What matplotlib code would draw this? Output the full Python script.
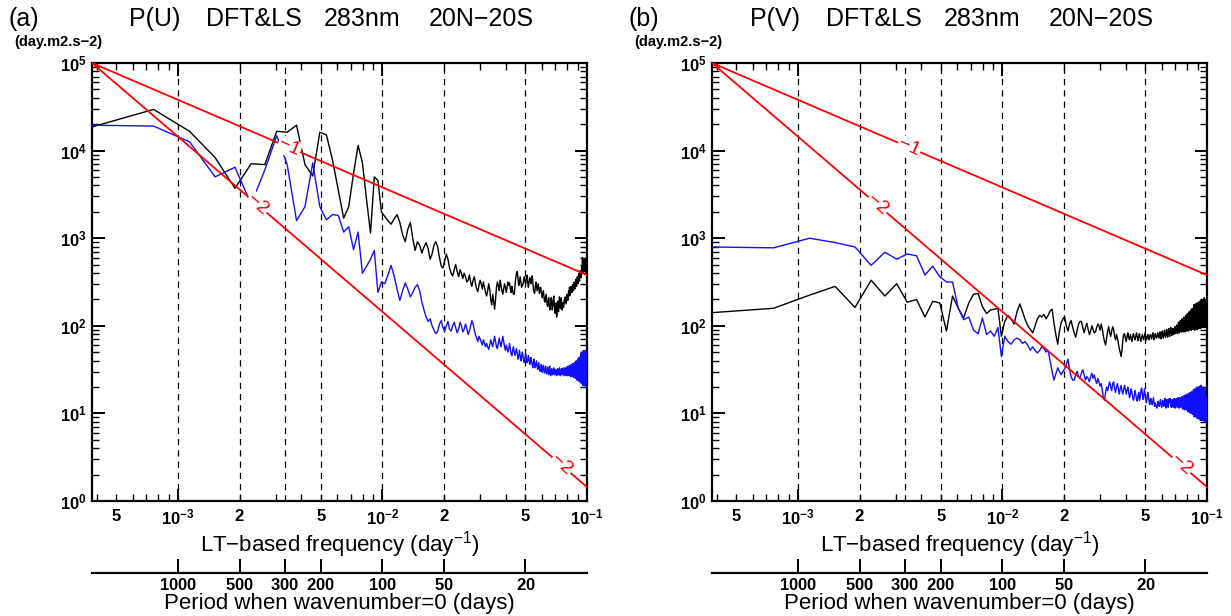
import matplotlib.pyplot as plt
import numpy as np
from matplotlib.ticker import LogLocator, FuncFormatter, FixedLocator, NullLocator, FixedFormatter

plt.rcParams['font.family'] = ['Liberation Sans', 'DejaVu Sans']
plt.rcParams['mathtext.fontset'] = 'custom'
plt.rcParams['mathtext.rm'] = 'Liberation Sans'
plt.rcParams['mathtext.bf'] = 'Liberation Sans:bold'
plt.rcParams['mathtext.default'] = 'regular'

# frequency resolution of the spectra (day^-1), harmonics k = 1, 2, ...
df = 3.8e-4

# log10 of power, panel (a) P(U)
a_black = [4.27, 4.47, 4.22, 3.92, 3.57, 3.85, 3.84, 4.22, 4.21, 4.29, 3.84, 3.71, 4.21, 4.18, 3.89, 3.55, 3.23, 3.36, 3.74, 4.06, 3.86, 3.44, 3.06, 3.70, 3.66,
           3.30, 3.25, 3.20, 3.16, 3.22, 3.27, 3.18, 3.04, 2.96, 3.10, 3.18, 3.00, 2.86, 2.96, 2.92, 2.83, 2.90, 2.95, 2.88, 2.76, 2.82, 2.92, 2.96, 2.90, 2.78,
           2.68, 2.66, 2.74, 2.82, 2.76, 2.66, 2.60, 2.57, 2.64, 2.70, 2.62, 2.56, 2.64, 2.60, 2.54, 2.60, 2.56, 2.50, 2.52, 2.58, 2.50, 2.45, 2.52, 2.56, 2.48,
           2.42, 2.39, 2.46, 2.52, 2.48, 2.42, 2.50, 2.44, 2.38, 2.34, 2.40, 2.48, 2.42, 2.30, 2.24, 2.36, 2.28, 2.19, 2.30, 2.44, 2.50, 2.46, 2.40, 2.52, 2.46,
           2.40, 2.36, 2.42, 2.48, 2.44, 2.38, 2.44, 2.50, 2.46, 2.49, 2.42, 2.38, 2.45, 2.40, 2.36, 2.36, 2.46, 2.55, 2.60, 2.62, 2.54, 2.46, 2.50, 2.56, 2.50,
           2.44, 2.47, 2.47, 2.52, 2.56, 2.50, 2.48, 2.54, 2.58, 2.50, 2.44, 2.50, 2.55, 2.52, 2.48, 2.54, 2.57, 2.50, 2.42, 2.38, 2.37, 2.44, 2.50, 2.46, 2.40,
           2.44, 2.48, 2.42, 2.37, 2.40, 2.44, 2.40, 2.37, 2.32, 2.36, 2.40, 2.34, 2.28, 2.27, 2.32, 2.36, 2.30, 2.24, 2.22, 2.28, 2.32, 2.25, 2.18, 2.20, 2.28,
           2.32, 2.26, 2.18, 2.22, 2.30, 2.34, 2.26, 2.18, 2.14, 2.20, 2.26, 2.10, 2.18, 2.28, 2.22, 2.16, 2.26, 2.33, 2.28, 2.20, 2.26, 2.32, 2.24, 2.18, 2.26,
           2.26, 2.21, 2.24, 2.30, 2.27, 2.33, 2.29, 2.25, 2.31, 2.36, 2.32, 2.29, 2.35, 2.40, 2.34, 2.44, 2.38, 2.35, 2.41, 2.45, 2.40, 2.38, 2.43, 2.47, 2.42,
           2.40, 2.45, 2.50, 2.44, 2.42, 2.48, 2.53, 2.47, 2.45, 2.52, 2.56, 2.50, 2.48, 2.55, 2.60, 2.53, 2.51, 2.58, 2.63, 2.56, 2.55, 2.62, 2.68, 2.62, 2.78,
           2.66, 2.60, 2.70, 2.76, 2.64, 2.62, 2.72, 2.77, 2.65, 2.60, 2.68, 2.64, 2.60]
a_blue = [4.29, 4.28, 4.10, 3.70, 3.81, 3.39, 3.78, 4.17, 3.84, 3.20, 3.36, 3.86, 3.36, 3.21, 3.27, 3.26, 3.07, 3.13, 2.87, 3.07, 2.60, 2.68, 2.76, 2.86, 2.38,
          2.50, 2.48, 2.58, 2.69, 2.57, 2.42, 2.29, 2.40, 2.49, 2.42, 2.33, 2.38, 2.44, 2.47, 2.40, 2.27, 2.18, 2.10, 2.05, 2.08, 2.00, 1.95, 1.91, 1.94, 2.02,
          2.06, 1.98, 1.94, 2.00, 2.05, 1.96, 1.94, 2.00, 2.04, 1.98, 1.92, 1.96, 2.04, 2.00, 1.93, 1.96, 2.02, 1.97, 1.90, 1.94, 2.00, 2.06, 2.02, 1.95, 1.90,
          1.86, 1.82, 1.88, 1.85, 1.82, 1.78, 1.84, 1.80, 1.76, 1.80, 1.76, 1.73, 1.78, 1.84, 1.80, 1.76, 1.82, 1.88, 1.82, 1.76, 1.74, 1.80, 1.86, 1.80, 1.76,
          1.82, 1.88, 1.82, 1.76, 1.72, 1.78, 1.74, 1.70, 1.74, 1.80, 1.74, 1.68, 1.66, 1.72, 1.76, 1.70, 1.66, 1.70, 1.74, 1.68, 1.62, 1.66, 1.72, 1.66, 1.60,
          1.64, 1.70, 1.66, 1.60, 1.58, 1.64, 1.68, 1.62, 1.58, 1.60, 1.66, 1.62, 1.56, 1.58, 1.64, 1.60, 1.55, 1.52, 1.58, 1.62, 1.56, 1.52, 1.56, 1.60, 1.54,
          1.50, 1.54, 1.58, 1.52, 1.48, 1.52, 1.56, 1.50, 1.47, 1.52, 1.55, 1.49, 1.46, 1.50, 1.54, 1.48, 1.45, 1.50, 1.53, 1.47, 1.44, 1.50, 1.54, 1.46, 1.43,
          1.48, 1.51, 1.46, 1.44, 1.48, 1.52, 1.47, 1.44, 1.47, 1.50, 1.46, 1.43, 1.47, 1.51, 1.46, 1.44, 1.48, 1.52, 1.46, 1.43, 1.47, 1.51, 1.47, 1.44, 1.49,
          1.52, 1.47, 1.43, 1.48, 1.52, 1.46, 1.43, 1.49, 1.53, 1.47, 1.43, 1.49, 1.54, 1.47, 1.43, 1.50, 1.55, 1.47, 1.42, 1.50, 1.56, 1.47, 1.42, 1.51, 1.57,
          1.47, 1.41, 1.51, 1.58, 1.47, 1.40, 1.52, 1.60, 1.46, 1.38, 1.54, 1.62, 1.45, 1.37, 1.56, 1.64, 1.44, 1.36, 1.58, 1.68, 1.42, 1.34, 1.62, 1.70, 1.40,
          1.32, 1.64, 1.72, 1.40, 1.32, 1.66, 1.72, 1.38, 1.30, 1.68, 1.70, 1.36, 1.34]

# log10 of power, panel (b) P(V)
b_black = [2.15, 2.20, 2.35, 2.45, 2.21, 2.52, 2.34, 2.48, 2.27, 2.30, 2.10, 2.28, 2.26, 1.94, 2.34, 2.20, 2.09, 2.26, 2.36, 2.37, 2.22, 2.14, 2.18, 2.19, 2.20,
           1.88, 2.05, 2.12, 2.08, 2.02, 2.16, 2.25, 2.16, 2.07, 2.00, 1.96, 1.92, 2.00, 2.08, 2.12, 2.10, 2.13, 2.08, 2.12, 2.17, 2.19, 2.03, 1.90, 1.79, 1.94,
           2.04, 2.08, 2.10, 2.00, 1.94, 2.02, 2.06, 1.98, 1.92, 1.87, 1.95, 2.02, 2.05, 2.05, 1.98, 1.92, 1.98, 2.03, 1.96, 1.90, 1.94, 2.00, 1.96, 1.92, 1.93,
           1.98, 2.02, 2.00, 1.95, 2.02, 1.96, 1.88, 1.82, 1.78, 1.86, 1.94, 1.99, 1.92, 1.88, 1.94, 1.99, 1.96, 1.88, 1.84, 1.90, 1.86, 1.80, 1.74, 1.70, 1.65,
           1.72, 1.84, 1.90, 1.91, 1.86, 1.82, 1.88, 1.92, 1.86, 1.84, 1.90, 1.86, 1.82, 1.88, 1.91, 1.86, 1.84, 1.88, 1.92, 1.87, 1.83, 1.88, 1.91, 1.86, 1.82,
           1.86, 1.90, 1.87, 1.84, 1.88, 1.92, 1.88, 1.84, 1.86, 1.90, 1.86, 1.84, 1.88, 1.90, 1.88, 1.85, 1.89, 1.92, 1.87, 1.84, 1.88, 1.91, 1.88, 1.86, 1.88,
           1.92, 1.88, 1.86, 1.90, 1.93, 1.88, 1.85, 1.90, 1.94, 1.89, 1.86, 1.91, 1.95, 1.90, 1.87, 1.92, 1.96, 1.90, 1.87, 1.93, 1.97, 1.90, 1.88, 1.93, 1.98,
           1.92, 1.89, 1.94, 1.97, 1.92, 1.90, 1.95, 1.99, 1.93, 1.91, 1.97, 2.01, 1.94, 1.91, 1.99, 2.04, 1.95, 1.92, 2.01, 2.06, 1.96, 1.93, 2.03, 2.08, 1.97,
           1.93, 2.05, 2.10, 1.98, 1.93, 2.07, 2.12, 1.98, 1.94, 2.09, 2.14, 1.99, 1.94, 2.11, 2.16, 2.00, 1.95, 2.13, 2.18, 2.00, 1.95, 2.14, 2.20, 2.01, 1.96,
           2.17, 2.24, 2.01, 1.95, 2.18, 2.25, 2.00, 1.96, 2.20, 2.26, 2.02, 1.96, 2.21, 2.27, 2.02, 1.97, 2.22, 2.28, 2.02, 1.97, 2.24, 2.30, 2.03, 1.98, 2.24,
           2.30, 2.04, 1.98, 2.26, 2.32, 2.04, 1.98, 2.26, 2.30, 2.02, 2.10, 2.02, 1.99]
b_blue = [2.90, 2.89, 3.00, 2.95, 2.90, 2.69, 2.84, 2.76, 2.82, 2.80, 2.58, 2.68, 2.56, 2.50, 2.50, 2.20, 2.07, 2.10, 1.95, 1.91, 2.09, 1.90, 1.94, 1.88, 1.98,
          1.65, 1.88, 1.82, 1.79, 1.84, 1.86, 1.84, 1.80, 1.82, 1.78, 1.72, 1.76, 1.72, 1.69, 1.72, 1.76, 1.74, 1.70, 1.72, 1.60, 1.48, 1.38, 1.45, 1.52, 1.48,
          1.44, 1.48, 1.51, 1.56, 1.62, 1.50, 1.42, 1.38, 1.38, 1.44, 1.48, 1.42, 1.40, 1.46, 1.50, 1.44, 1.38, 1.42, 1.40, 1.36, 1.42, 1.46, 1.40, 1.44, 1.38,
          1.34, 1.40, 1.36, 1.31, 1.34, 1.26, 1.18, 1.15, 1.24, 1.30, 1.26, 1.32, 1.36, 1.30, 1.26, 1.34, 1.36, 1.28, 1.24, 1.30, 1.34, 1.28, 1.22, 1.28, 1.32,
          1.26, 1.22, 1.28, 1.32, 1.27, 1.22, 1.27, 1.30, 1.24, 1.18, 1.22, 1.28, 1.24, 1.18, 1.15, 1.20, 1.26, 1.22, 1.16, 1.14, 1.20, 1.24, 1.15, 1.18, 1.26,
          1.29, 1.22, 1.16, 1.20, 1.28, 1.22, 1.16, 1.12, 1.18, 1.24, 1.20, 1.14, 1.10, 1.16, 1.17, 1.12, 1.10, 1.14, 1.18, 1.12, 1.08, 1.12, 1.10, 1.07, 1.06,
          1.10, 1.14, 1.10, 1.08, 1.12, 1.16, 1.10, 1.07, 1.12, 1.15, 1.10, 1.08, 1.13, 1.17, 1.10, 1.06, 1.12, 1.16, 1.10, 1.07, 1.13, 1.17, 1.12, 1.17, 1.10,
          1.07, 1.13, 1.16, 1.10, 1.07, 1.13, 1.17, 1.10, 1.06, 1.12, 1.17, 1.10, 1.07, 1.14, 1.18, 1.10, 1.06, 1.13, 1.18, 1.13, 1.07, 1.15, 1.19, 1.10, 1.05,
          1.14, 1.20, 1.10, 1.04, 1.15, 1.21, 1.10, 1.04, 1.16, 1.22, 1.08, 1.02, 1.18, 1.23, 1.08, 1.01, 1.18, 1.24, 1.08, 1.00, 1.20, 1.25, 1.07, 0.99, 1.20,
          1.27, 1.06, 0.96, 1.22, 1.28, 1.06, 0.96, 1.24, 1.30, 1.05, 0.94, 1.24, 1.30, 1.04, 0.94, 1.26, 1.31, 1.04, 0.92, 1.26, 1.32, 1.02, 0.92, 1.28, 1.30,
          1.00, 0.92, 1.28, 1.30, 0.98, 0.90, 1.26, 1.28, 0.96, 0.90, 1.20, 1.02, 0.92]

panel_tags = ['(a)', '(b)']
panel_vars = ['P(U)', 'P(V)']
title_words = ['DFT&LS', '283nm', '20N\u221220S']
units = '(day.m2.s\u22122)'
dashed_freqs = [1e-3, 2e-3, 1 / 300, 5e-3, 1e-2, 2e-2, 5e-2]
period_ticks = [1000, 500, 300, 200, 100, 50, 20]
xmin, xmax = df, 0.1
ref_top = 1e5


def inv(x):
    x = np.asarray(x, dtype=float)
    with np.errstate(divide='ignore'):
        return 1.0 / x


def minor_label(x, pos):
    m = x / 10 ** np.floor(np.log10(x) + 1e-9)
    if abs(m - 2) < 0.01:
        return r'$\mathbf{2}$'
    if abs(m - 5) < 0.01:
        return r'$\mathbf{5}$'
    return ''


fig = plt.figure(figsize=(12.31, 6.16), dpi=100)
W, H = 1231, 616
lefts = [92, 712]

for i, (black, blue) in enumerate([(a_black, a_blue), (b_black, b_blue)]):
    ax = fig.add_axes([lefts[i] / W, 115 / H, 495 / W, 438 / H])
    freq = df * np.arange(1, len(black) + 1)
    ax.set_xscale('log')
    ax.set_yscale('log')
    ax.set_xlim(xmin, xmax)
    ax.set_ylim(1, 1e5)

    for v in dashed_freqs:
        ax.axvline(v, color='k', ls=(0, (5, 4)), lw=0.9, zorder=1)

    ax.plot(freq, 10 ** np.array(black), color='black', lw=1.0, zorder=3)
    ax.plot(freq, 10 ** np.array(blue), color='#1010ff', lw=1.0, zorder=3)

    # reference slopes -1 and -2 from the top-left corner
    fl = np.array([xmin, xmax])
    ax.plot(fl, ref_top * (fl / xmin) ** -1, color='red', lw=1.3, zorder=4)
    ax.plot(fl, ref_top * (fl / xmin) ** -2, color='red', lw=1.3, zorder=4)

    ax.xaxis.set_major_locator(FixedLocator([1e-3, 1e-2, 1e-1]))
    ax.xaxis.set_major_formatter(FixedFormatter([r'$\mathbf{10^{-3}}$', r'$\mathbf{10^{-2}}$', r'$\mathbf{10^{-1}}$']))
    ax.xaxis.set_minor_locator(LogLocator(base=10, subs=np.arange(2, 10), numticks=20))
    ax.xaxis.set_minor_formatter(FuncFormatter(minor_label))
    ax.yaxis.set_major_locator(LogLocator(base=10, numticks=10))
    ax.yaxis.set_major_formatter(FuncFormatter(lambda y, p: r'$\mathbf{10^{%d}}$' % round(np.log10(y))))
    ax.yaxis.set_minor_locator(LogLocator(base=10, subs=np.arange(2, 10), numticks=20))
    ax.yaxis.set_minor_formatter(FuncFormatter(lambda y, p: ''))

    ax.tick_params(which='both', direction='in', top=True, right=True, labelsize=12)
    ax.tick_params(which='major', length=9, width=1.4)
    ax.tick_params(which='minor', length=5, width=1.0)
    ax.tick_params(axis='x', which='both', pad=5)
    for s in ax.spines.values():
        s.set_linewidth(1.6)
    ax.set_xlabel('LT\u2212based frequency (day$^{-1}$)', fontsize=16, labelpad=1)

    sec = ax.secondary_xaxis(-0.165, functions=(inv, inv))
    sec.set_xticks(period_ticks)
    sec.xaxis.set_major_formatter(FixedFormatter([r'$\mathbf{%d}$' % p for p in period_ticks]))
    sec.xaxis.set_minor_locator(NullLocator())
    sec.tick_params(which='major', direction='in', length=10, width=1.4, labelsize=12, pad=3)
    sec.spines['bottom'].set_linewidth(1.6)
    sec.set_xlabel('Period when wavenumber=0 (days)', fontsize=16, labelpad=0)

    # slope labels along the red lines
    for slope, f_lab, txt in [(1, 3.5e-3, '\u22121'), (2, 2.45e-3, '\u22122'), (2, 7.5e-2, '\u22122')]:
        p1 = ax.transData.transform((xmin, ref_top))
        p2 = ax.transData.transform((xmax, ref_top * (xmax / xmin) ** -slope))
        ang = np.degrees(np.arctan2(p2[1] - p1[1], p2[0] - p1[0]))
        ax.text(f_lab, ref_top * (f_lab / xmin) ** -slope, txt, color='red', fontsize=14,
                rotation=ang, rotation_mode='anchor', ha='center', va='center', zorder=5,
                bbox=dict(facecolor='white', edgecolor='none', pad=0.5))

    # header: panel tag, variable and run description
    off = 620 * i
    fig.text((24 + off) / W, 1 - 19 / H, panel_tags[i], fontsize=18, va='center', ha='center')
    fig.text((155 + off) / W, 1 - 19 / H, panel_vars[i], fontsize=18, va='center', ha='center')
    for w, xc in zip(title_words, [254, 362, 481]):
        fig.text((xc + off) / W, 1 - 19 / H, w, fontsize=18, va='center', ha='center')
    fig.text((14 + off) / W, 1 - 42 / H, units, fontsize=10.5, fontweight='bold', va='center')

fig.savefig('out.png', dpi=100)
